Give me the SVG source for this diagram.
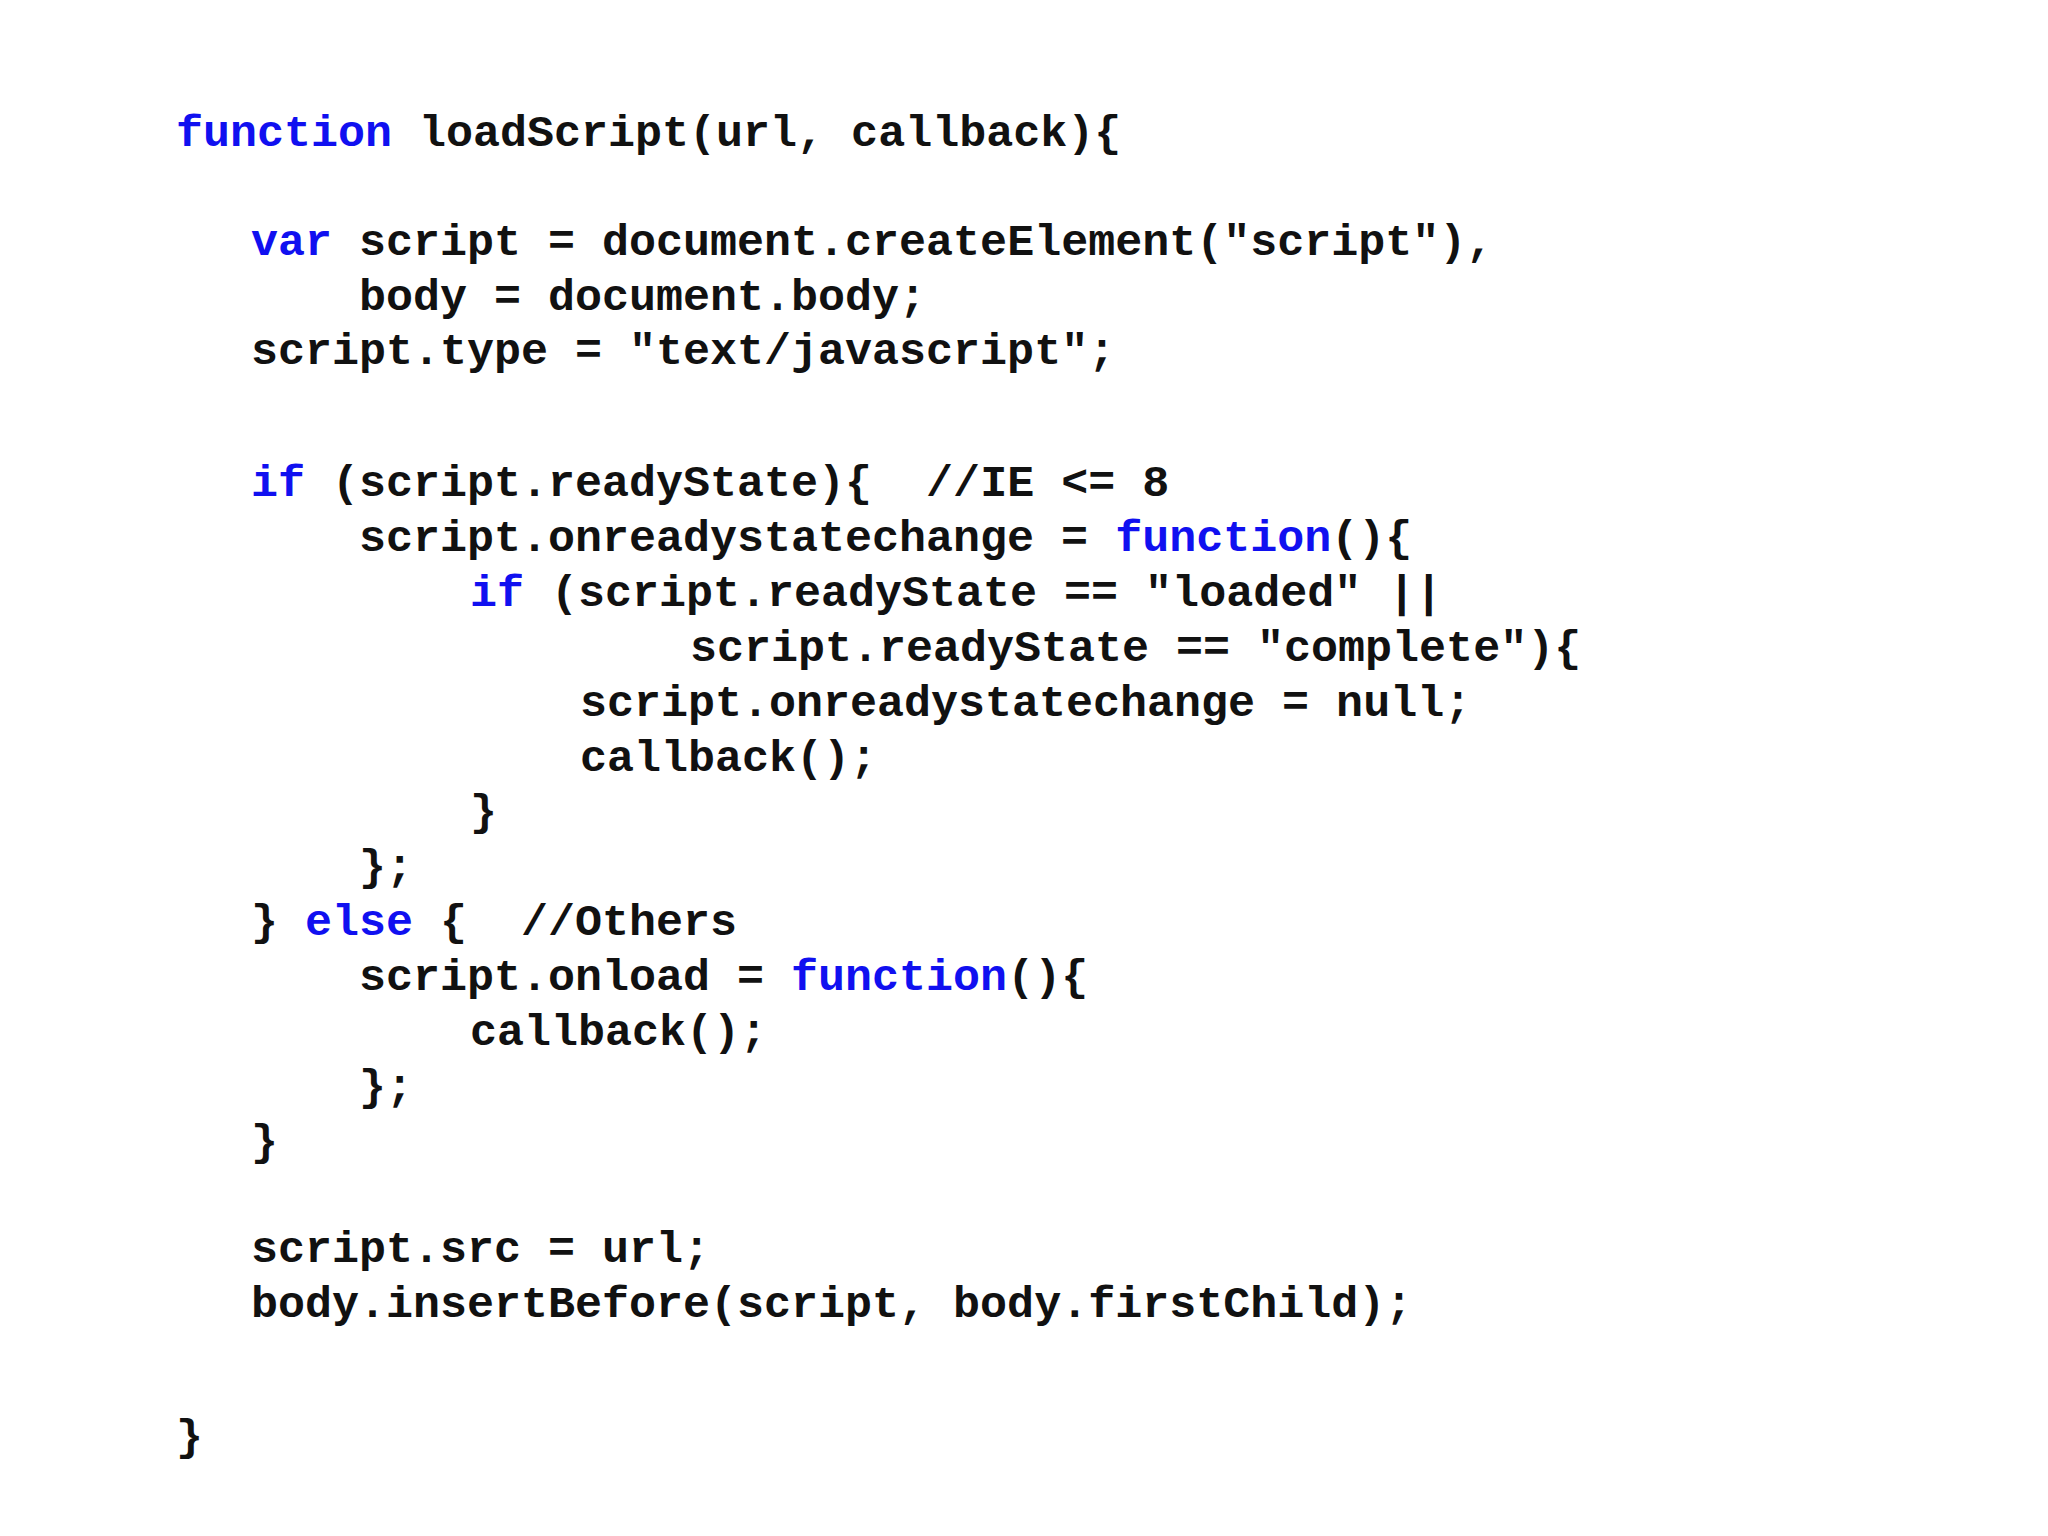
<svg xmlns="http://www.w3.org/2000/svg" width="2048" height="1536" viewBox="0 0 2048 1536">
<style>
text{font-family:"Liberation Mono","Courier New",monospace;font-weight:bold;font-size:45px;fill:#111;white-space:pre}
.k{fill:#1010f0}
</style>
<rect width="2048" height="1536" fill="#fff"/>
<g id="code" xml:space="preserve">
<text x="176" y="146"><tspan class="k">function</tspan> loadScript(url, callback){</text>
<text x="251" y="255"><tspan class="k">var</tspan> script = document.createElement("script"),</text>
<text x="359" y="310">body = document.body;</text>
<text x="251" y="364">script.type = "text/javascript";</text>
<text x="251" y="496"><tspan class="k">if</tspan> (script.readyState){  //IE &lt;= 8</text>
<text x="359" y="551">script.onreadystatechange = <tspan class="k">function</tspan>(){</text>
<text x="470" y="606"><tspan class="k">if</tspan> (script.readyState == "loaded" ||</text>
<text x="690" y="661">script.readyState == "complete"){</text>
<text x="580" y="716">script.onreadystatechange = null;</text>
<text x="580" y="771">callback();</text>
<text x="470" y="825">}</text>
<text x="359" y="880">};</text>
<text x="251" y="935">} <tspan class="k">else</tspan> {  //Others</text>
<text x="359" y="990">script.onload = <tspan class="k">function</tspan>(){</text>
<text x="470" y="1045">callback();</text>
<text x="359" y="1100">};</text>
<text x="251" y="1155">}</text>
<text x="251" y="1262">script.src = url;</text>
<text x="251" y="1317">body.insertBefore(script, body.firstChild);</text>
<text x="176" y="1450">}</text>
</g>
</svg>
